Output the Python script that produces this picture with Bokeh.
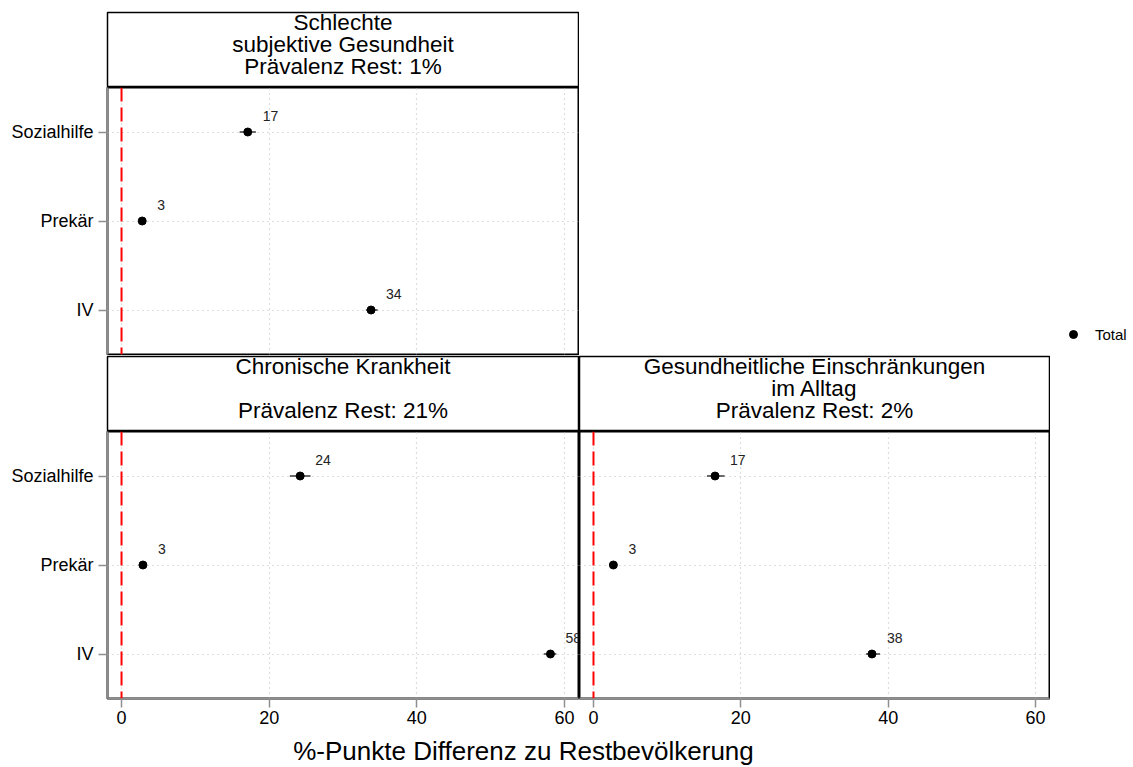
from bokeh.plotting import figure
from bokeh.models import (Range1d, FactorRange, FixedTicker, CategoricalTicker, Span,
                          Legend, LegendItem, ColumnDataSource, Spacer)
from bokeh.layouts import column, row
from bokeh.embed import file_html
from bokeh.resources import INLINE
from bokeh.core.properties import value

# ---------------- data ----------------
groups = ["Sozialhilfe", "Prekär", "IV"]
x_ticks = [0, 20, 40, 60]
axis_title = "%-Punkte Differenz zu Restbevölkerung"
legend_label = "Total"

strip_a = ["Schlechte", "subjektive Gesundheit", "Prävalenz Rest: 1%"]
strip_b = ["Chronische Krankheit", "", "Prävalenz Rest: 21%"]
strip_c = ["Gesundheitliche Einschränkungen", "im Alltag", "Prävalenz Rest: 2%"]

gesundheit_est = [17.1, 2.8, 33.8]
gesundheit_lo = [16.0, 2.5, 33.1]
gesundheit_hi = [18.2, 3.1, 34.7]
gesundheit_lab = ["17", "3", "34"]

chronisch_est = [24.2, 2.9, 58.1]
chronisch_lo = [22.8, 2.5, 57.2]
chronisch_hi = [25.6, 3.3, 58.9]
chronisch_lab = ["24", "3", "58"]

einschr_est = [16.5, 2.7, 37.8]
einschr_lo = [15.4, 2.4, 37.0]
einschr_hi = [17.8, 3.0, 38.9]
einschr_lab = ["17", "3", "38"]

# ---------------- style ----------------
FONT = "Liberation Sans"
AX_GREY = "#8f8f8f"
X_RANGE = (-1.9, 61.9)


def bare_figure(width, height, xr, yr, left=0, right=0, top=0, bottom=0):
    p = figure(width=width, height=height, x_range=xr, y_range=yr,
               x_axis_location=None, y_axis_location=None, toolbar_location=None,
               output_backend="svg", min_border_left=left, min_border_right=right,
               min_border_top=top, min_border_bottom=bottom, title=None)
    p.grid.visible = False
    p.outline_line_color = None
    p.background_fill_color = "white"
    p.border_fill_color = "white"
    return p


def make_strip(lines, width, height, left, right, top, bottom):
    frame_h = height - top - bottom
    p = bare_figure(width, height, Range1d(0, 1), Range1d(0, frame_h), left, right, top, bottom)
    p.outline_line_color = "black"
    p.outline_line_width = 1.5
    rows = [(t, yc) for t, yc in zip(lines, [64, 42, 20]) if t]
    src = ColumnDataSource(dict(x=[0.5] * len(rows), y=[r[1] for r in rows],
                                t=[r[0] for r in rows]))
    p.text("x", "y", text="t", source=src, text_align="center", text_baseline="middle",
           text_font=value(FONT), text_font_size="22.5px", text_color="black")
    return p


def make_panel(est, lo, hi, lab, width, height, left, right, bottom, show_x, show_y):
    src = ColumnDataSource(dict(grp=groups, est=est, lo=lo, hi=hi, lab=lab))
    p = figure(width=width, height=height, y_range=FactorRange(factors=groups[::-1]),
               x_range=Range1d(*X_RANGE),
               x_axis_location="below" if show_x else None,
               y_axis_location="left" if show_y else None,
               toolbar_location=None, output_backend="svg",
               min_border_left=left, min_border_right=right, min_border_top=0,
               min_border_bottom=bottom, title=None)
    p.background_fill_color = "white"
    p.border_fill_color = "white"
    p.outline_line_color = "black"
    p.outline_line_width = 2

    p.xgrid.ticker = FixedTicker(ticks=x_ticks)
    p.ygrid.ticker = CategoricalTicker()
    p.grid.grid_line_color = "#bdbdbd"
    p.grid.grid_line_dash = "1 4"
    p.grid.grid_line_width = 1.2

    if show_x:
        ax = p.xaxis[0]
        ax.ticker = FixedTicker(ticks=x_ticks)
        ax.axis_line_color = AX_GREY
        ax.axis_line_width = 2
        ax.major_tick_line_color = AX_GREY
        ax.major_tick_line_width = 1.5
        ax.major_tick_out = 9
        ax.major_tick_in = 0
        ax.minor_tick_line_color = None
        ax.major_label_standoff = 3
        ax.major_label_text_font = FONT
        ax.major_label_text_font_size = "18px"
        ax.major_label_text_color = "black"
    if show_y:
        ay = p.yaxis[0]
        ay.axis_line_color = AX_GREY
        ay.axis_line_width = 2
        ay.major_tick_line_color = AX_GREY
        ay.major_tick_line_width = 1.5
        ay.major_tick_out = 9
        ay.major_tick_in = 0
        ay.major_label_standoff = 5
        ay.major_label_text_font = FONT
        ay.major_label_text_font_size = "18px"
        ay.major_label_text_color = "black"

    p.add_layout(Span(location=0, dimension="height", line_color="#ff0000",
                      line_width=2, line_dash="14 6"))
    p.segment(x0="lo", y0="grp", x1="hi", y1="grp", source=src,
              line_color="#6a6a6a", line_width=2)
    p.scatter("est", "grp", source=src, size=8, fill_color="black", line_color="black")
    p.text("est", "grp", text="lab", source=src, x_offset=15, y_offset=-16,
           text_align="left", text_baseline="middle", text_font=value(FONT),
           text_font_size="14px", text_color="#222222")
    return p


# ---------------- layout ----------------
stripA = make_strip(strip_a, 579, 87, 107, 1, 12, 1)
topRight = Spacer(width=554, height=87)

panelA = make_panel(gesundheit_est, gesundheit_lo, gesundheit_hi, gesundheit_lab,
                    579, 268, 107, 1, 1, show_x=False, show_y=True)

# legend panel: the series is drawn here off-frame only to feed the legend key
legFig = bare_figure(554, 268, Range1d(1000, 1554), Range1d(1000, 1268))
legSrc = ColumnDataSource(dict(x=gesundheit_est, y=gesundheit_est))
legPts = legFig.scatter("x", "y", source=legSrc, size=8, fill_color="black", line_color="black")
legend = Legend(items=[LegendItem(label=legend_label, renderers=[legPts])],
                location=(484, 10), glyph_width=20, glyph_height=20, label_height=20,
                label_standoff=12, padding=5, margin=0, spacing=0,
                border_line_color=None, background_fill_alpha=0,
                label_text_font=FONT, label_text_font_size="15px",
                label_text_color="black")
legFig.add_layout(legend)

stripB = make_strip(strip_b, 579, 76, 107, 1, 1, 1)
stripC = make_strip(strip_c, 471, 76, 0, 1, 1, 1)

panelB = make_panel(chronisch_est, chronisch_lo, chronisch_hi, chronisch_lab,
                    579, 305, 107, 1, 38, show_x=True, show_y=True)
panelC = make_panel(einschr_est, einschr_lo, einschr_hi, einschr_lab,
                    471, 305, 0, 1, 38, show_x=True, show_y=False)

xlab = bare_figure(1125, 31, Range1d(0, 1125), Range1d(0, 31))
xlabSrc = ColumnDataSource(dict(x=[523], y=[17], t=[axis_title]))
xlab.text("x", "y", text="t", source=xlabSrc, text_align="center", text_baseline="middle",
          text_font=value(FONT), text_font_size="26px", text_color="black")

p = column(row(stripA, topRight), row(panelA, legFig), row(stripB, stripC),
           row(panelB, panelC), row(xlab))

open("out.html", "w").write(file_html(p, INLINE))
